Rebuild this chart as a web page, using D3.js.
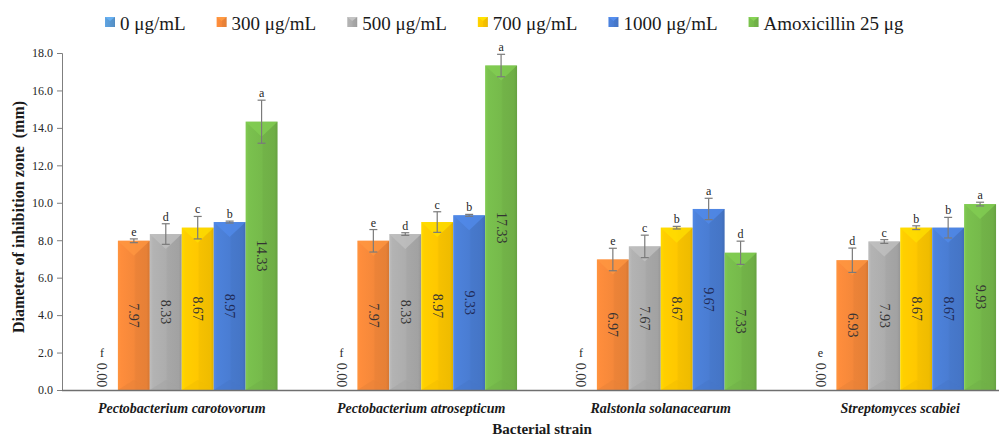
<!DOCTYPE html>
<html>
<head>
<meta charset="utf-8">
<script src="https://cdn.jsdelivr.net/npm/d3@7"></script>
<style>
  html, body { margin: 0; padding: 0; background: #fff; }
  svg { display: block; }
  svg text { font-family: "Liberation Serif", "Times New Roman", serif !important; }
</style>
</head>
<body>
<svg id="chart" width="999" height="439"></svg>
<script>
// ---------- data ----------
const categories = ["Pectobacterium carotovorum", "Pectobacterium atrosepticum", "Ralstonla solanacearum", "Streptomyces scabiei"];
const seriesNames = ["0 μg/mL", "300 μg/mL", "500 μg/mL", "700 μg/mL", "1000 μg/mL", "Amoxicillin 25 μg"];
const v0    = [0, 0, 0, 0];
const v300  = [7.97, 7.97, 6.97, 6.93];
const v500  = [8.33, 8.33, 7.67, 7.93];
const v700  = [8.67, 8.97, 8.67, 8.67];
const v1000 = [8.97, 9.33, 9.67, 8.67];
const vAmox = [14.33, 17.33, 7.33, 9.93];
const e0    = [0, 0, 0, 0];
const e300  = [0.1, 0.6, 0.6, 0.65];
const e500  = [0.55, 0.07, 0.6, 0.1];
const e700  = [0.6, 0.55, 0.07, 0.1];
const e1000 = [0.05, 0.05, 0.57, 0.55];
const eAmox = [1.15, 0.6, 0.62, 0.1];
const l0    = ["f", "f", "f", "e"];
const l300  = ["e", "e", "e", "d"];
const l500  = ["d", "d", "c", "c"];
const l700  = ["c", "c", "b", "b"];
const l1000 = ["b", "b", "a", "b"];
const lAmox = ["a", "a", "d", "a"];
const yTicks = [0, 2, 4, 6, 8, 10, 12, 14, 16, 18];

const values = [v0, v300, v500, v700, v1000, vAmox];
const errors = [e0, e300, e500, e700, e1000, eAmox];
const letters = [l0, l300, l500, l700, l1000, lAmox];
const colors = ["#5B9BD5", "#F5883A", "#ADADAD", "#FFC800", "#4A7DD3", "#76BA4B"];
const FONT = "Liberation Serif";

// ---------- layout ----------
const svg = d3.select("#chart");
const left = 62, yTop = 53, yBottom = 390;
const y = d3.scaleLinear().domain([0, 18]).range([yBottom, yTop]);
const x0 = d3.scaleBand().domain(categories).range([left, left + 4 * 239.5]).paddingInner(0.2).paddingOuter(0.1);
const x1 = d3.scaleBand().domain(seriesNames).range([0, x0.bandwidth()]).padding(0);

// gradients
const defs = svg.append("defs");
colors.forEach((c, i) => {
  const base = d3.color(c);
  const g = defs.append("linearGradient").attr("id", "g" + i).attr("x1", 0).attr("x2", 1).attr("y1", 0).attr("y2", 0);
  g.append("stop").attr("offset", 0).attr("stop-color", base.brighter(0.25));
  g.append("stop").attr("offset", 0.1).attr("stop-color", base.brighter(0.1));
  g.append("stop").attr("offset", 0.5).attr("stop-color", base);
  g.append("stop").attr("offset", 0.56).attr("stop-color", base.darker(0.1));
  g.append("stop").attr("offset", 0.9).attr("stop-color", base.darker(0.18));
  g.append("stop").attr("offset", 1).attr("stop-color", base.darker(0.4));
});

// ---------- axes ----------
const yAxis = d3.axisLeft(y).tickValues(yTicks).tickFormat(d3.format(".1f")).tickSize(5).tickPadding(4);
const gy = svg.append("g").attr("transform", `translate(${left},0)`).call(yAxis).attr("font-family", FONT);
gy.select(".domain").attr("stroke", "#7f7f7f");
gy.selectAll(".tick line").attr("stroke", "#7f7f7f");
gy.selectAll(".tick text").attr("font-size", 12).attr("fill", "#262626").attr("font-family", FONT);

// ---------- bars ----------
const data = [];
categories.forEach((cat, ci) => {
  seriesNames.forEach((s, si) => {
    data.push({ cat, s, si, v: values[si][ci], e: errors[si][ci], l: letters[si][ci] });
  });
});

const bars = svg.append("g").attr("font-family", FONT).selectAll("g.bar").data(data).join("g").attr("class", "bar")
  .attr("transform", d => `translate(${x0(d.cat) + x1(d.s)},0)`);
const bw = x1.bandwidth();

bars.filter(d => d.v > 0).append("rect")
  .attr("x", 0).attr("width", bw)
  .attr("y", d => y(d.v)).attr("height", d => y(0) - y(d.v))
  .attr("fill", d => `url(#g${d.si})`);
// top bevel triangle
bars.filter(d => d.v > 0).append("path")
  .attr("d", d => `M0,${y(d.v)}L${bw},${y(d.v)}L${bw / 2},${y(d.v) + 15}Z`)
  .attr("fill", d => d3.color(colors[d.si]).brighter(0.3))
  .attr("opacity", 0.75);
// bottom bevel
bars.filter(d => d.v > 0).append("path")
  .attr("d", d => `M0,${y(0)}L${bw},${y(0)}L${bw / 2},${y(0) - 10}Z`)
  .attr("fill", d => d3.color(colors[d.si]).darker(0.15))
  .attr("opacity", 0.5);

// error bars
const eb = bars.filter(d => d.v > 0).append("g").attr("stroke", "#7a7a7a").attr("stroke-width", 1.2);
eb.append("line").attr("x1", bw / 2).attr("x2", bw / 2).attr("y1", d => y(d.v + d.e)).attr("y2", d => y(d.v - d.e));
eb.append("line").attr("x1", bw / 2 - 4).attr("x2", bw / 2 + 4).attr("y1", d => y(d.v + d.e)).attr("y2", d => y(d.v + d.e));
eb.append("line").attr("x1", bw / 2 - 4).attr("x2", bw / 2 + 4).attr("y1", d => y(d.v - d.e)).attr("y2", d => y(d.v - d.e));

// letters
bars.append("text")
  .attr("x", bw / 2)
  .attr("y", d => d.v > 0 ? y(d.v + d.e) - 3 : y(0) - 33)
  .attr("text-anchor", "middle")
  .attr("font-family", FONT)
  .attr("font-size", 12)
  .attr("fill", "#262626")
  .text(d => d.l);

// value labels (rotated)
bars.append("text")
  .attr("transform", d => {
    const cy = d.v > 0 ? (y(d.v) + y(0)) / 2 : y(0) - 15;
    return `translate(${bw / 2},${cy}) rotate(90)`;
  })
  .attr("text-anchor", "middle")
  .attr("dominant-baseline", "central")
  .attr("font-family", FONT)
  .attr("font-size", 14)
  .attr("fill", d => d.si === 4 ? "#1f2a55" : "#333")
  .text(d => d3.format(".2f")(d.v));

// x axis line
svg.append("line").attr("x1", left).attr("x2", 999).attr("y1", y(0) + 0.5).attr("y2", y(0) + 0.5)
  .attr("stroke", "#6f6f6f").attr("stroke-width", 1.3);

// category labels
svg.append("g").selectAll("text").data(categories).join("text")
  .attr("x", d => x0(d) + x0.bandwidth() / 2)
  .attr("y", 413)
  .attr("text-anchor", "middle")
  .attr("font-family", FONT)
  .attr("font-size", 14)
  .attr("font-weight", "bold")
  .attr("font-style", "italic")
  .attr("fill", "#1a1a1a")
  .text(d => d);

// axis titles
svg.append("text").attr("x", 542).attr("y", 434).attr("text-anchor", "middle").attr("font-family", FONT)
  .attr("font-size", 15).attr("font-weight", "bold").attr("fill", "#1a1a1a").text("Bacterial strain");
svg.append("text").attr("transform", "translate(24,217) rotate(-90)").attr("text-anchor", "middle").attr("font-family", FONT)
  .attr("font-size", 16).attr("font-weight", "bold").attr("fill", "#1a1a1a")
  .style("white-space", "pre").text("Diameter of inhibition zone  (mm)");

// ---------- legend ----------
const legend = svg.append("g").attr("font-family", FONT);
let lx = 105;
seriesNames.forEach((s, i) => {
  const item = legend.append("g").attr("transform", `translate(${lx},0)`);
  item.append("rect").attr("x", 0).attr("y", 17).attr("width", 10).attr("height", 10).attr("fill", `url(#g${i})`);
  item.append("path").attr("d", "M0,17L10,17L5,21Z").attr("fill", d3.color(colors[i]).brighter(0.35));
  const t = item.append("text").attr("x", 15).attr("y", 30).attr("font-family", FONT).attr("font-size", 19).attr("fill", "#1a1a1a").text(s);
  lx += 15 + t.node().getComputedTextLength() + 31;
});
</script>
</body>
</html>
